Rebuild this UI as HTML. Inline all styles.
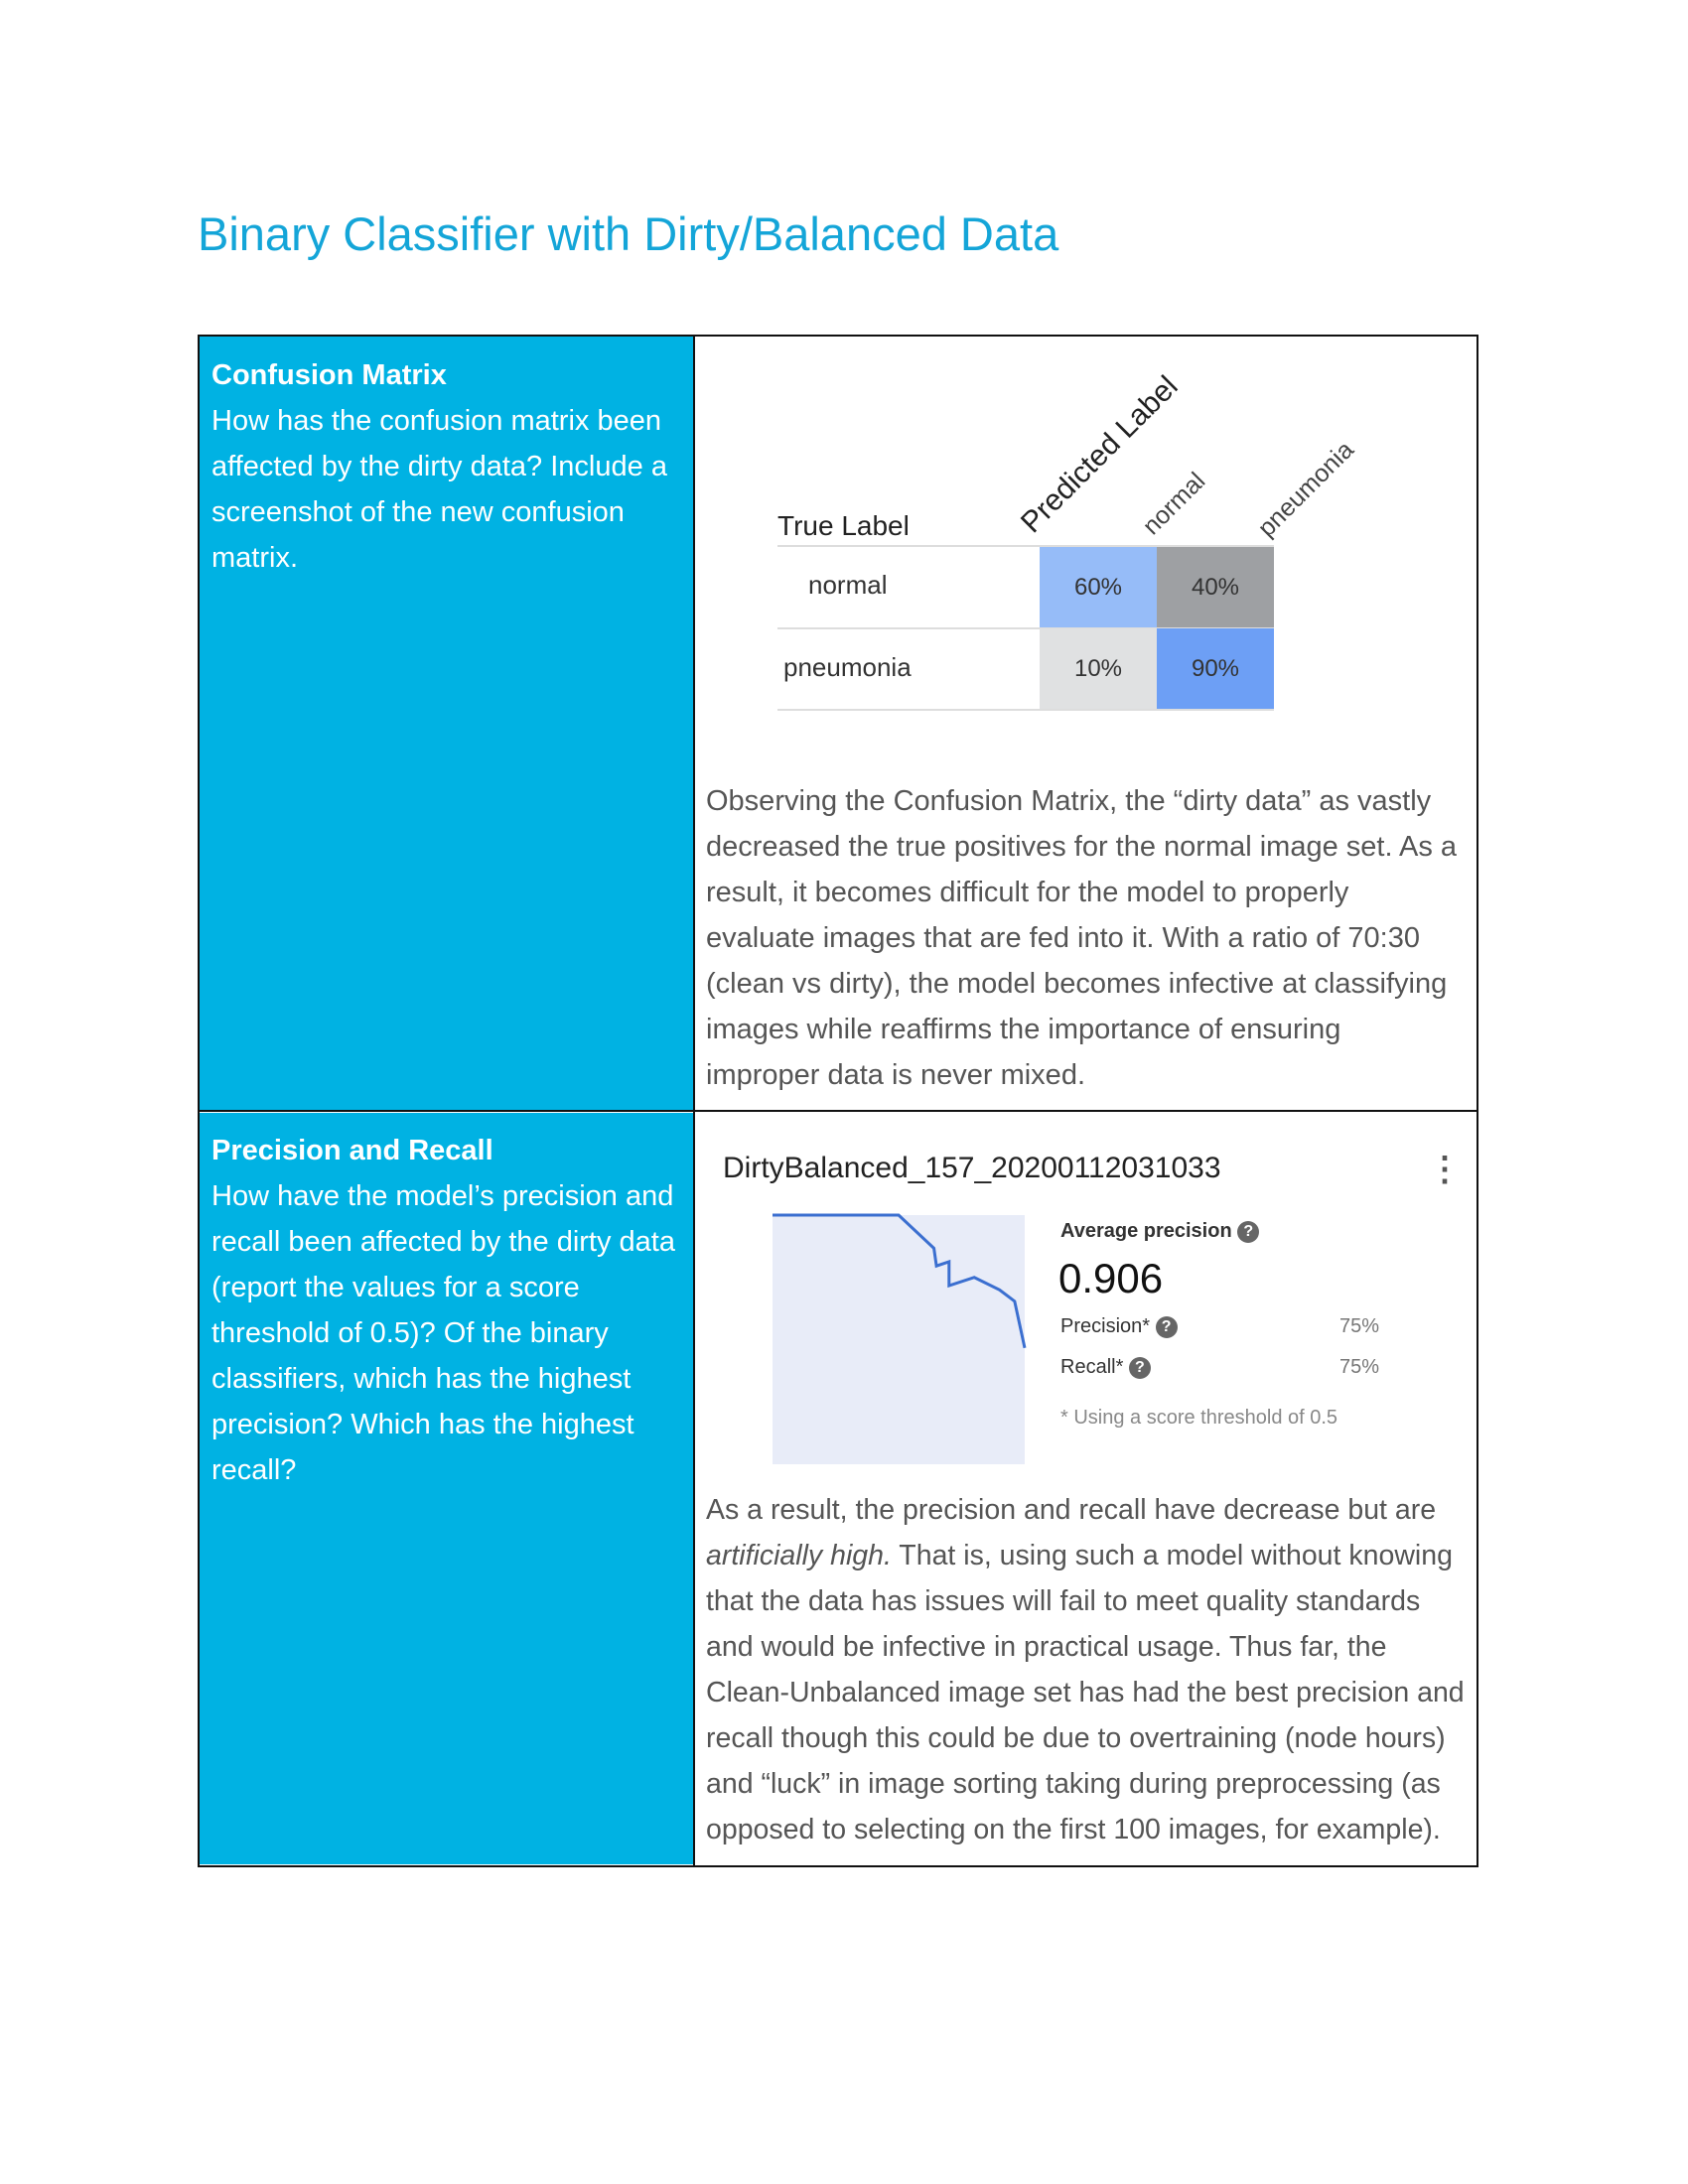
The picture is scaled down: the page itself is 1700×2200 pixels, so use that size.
<!DOCTYPE html>
<html><head><meta charset="utf-8">
<style>
body{margin:0;background:#fff;font-family:"Liberation Sans",sans-serif;}
#page{position:relative;width:1700px;height:2200px;overflow:hidden;}
.abs{position:absolute;white-space:nowrap;}
.lt{position:absolute;color:#fff;font-size:29px;line-height:46px;}
.rt{position:absolute;color:#555;font-size:29px;line-height:46px;white-space:nowrap;}
.q{display:inline-block;width:22px;height:22px;border-radius:50%;background:#666;color:#fff;font-size:16px;text-align:center;line-height:22px;font-weight:bold;vertical-align:middle;}
</style></head><body>
<div id="page">
<div class="abs" style="left:199px;top:208px;font-size:47px;color:#14a5d8;">Binary Classifier with Dirty/Balanced Data</div>

<div style="position:absolute;left:199px;top:337px;width:1286px;height:1540px;border:2px solid #111;"></div>
<div style="position:absolute;left:201px;top:339px;width:497px;height:779px;background:#00b2e3;"></div>
<div style="position:absolute;left:201px;top:1121px;width:497px;height:757px;background:#00b2e3;"></div>
<div style="position:absolute;left:698px;top:339px;width:2px;height:1540px;background:#111;"></div>
<div style="position:absolute;left:201px;top:1118px;width:1286px;height:2px;background:#111;"></div>

<div class="lt" style="left:213px;top:355px;width:480px;"><span style="font-weight:bold;">Confusion Matrix</span><br>How has the confusion matrix been affected by the dirty data? Include a screenshot of the new confusion matrix.</div>
<div class="lt" style="left:213px;top:1136px;width:480px;"><span style="font-weight:bold;">Precision and Recall</span><br>How have the model’s precision and recall been affected by the dirty data (report the values for a score threshold of 0.5)? Of the binary classifiers, which has the highest precision? Which has the highest recall?</div>

<!-- confusion matrix -->
<div class="abs" style="left:783px;top:514px;font-size:28px;color:#222;">True Label</div>
<div class="abs" style="left:1046px;top:545px;font-size:30px;color:#222;transform-origin:0 100%;transform:translateY(-35px) rotate(-45deg);">Predicted Label</div>
<div class="abs" style="left:1166px;top:545px;font-size:25px;color:#444;transform-origin:0 100%;transform:translateY(-29px) rotate(-45deg);">normal</div>
<div class="abs" style="left:1282px;top:547px;font-size:25px;color:#444;transform-origin:0 100%;transform:translateY(-29px) rotate(-45deg);">pneumonia</div>
<div style="position:absolute;left:783px;top:549px;width:500px;height:2px;background:#ddd;"></div>
<div style="position:absolute;left:783px;top:632px;width:500px;height:2px;background:#ddd;"></div>
<div style="position:absolute;left:783px;top:714px;width:500px;height:2px;background:#ddd;"></div>
<div class="abs" style="left:814px;top:574px;font-size:26px;color:#333;">normal</div>
<div class="abs" style="left:789px;top:657px;font-size:26px;color:#333;">pneumonia</div>
<div id="cm"></div>

<div class="rt" style="left:711px;top:784px;">Observing the Confusion Matrix, the “dirty data” as vastly<br>decreased the true positives for the normal image set. As a<br>result, it becomes difficult for the model to properly<br>evaluate images that are fed into it. With a ratio of 70:30<br>(clean vs dirty), the model becomes infective at classifying<br>images while reaffirms the importance of ensuring<br>improper data is never mixed.</div>

<!-- PR -->
<div class="abs" style="left:728px;top:1160px;font-size:30px;color:#222;">DirtyBalanced_157_20200112031033</div>
<div class="abs" style="left:1438px;top:1158px;font-size:34px;color:#555;font-weight:bold;">⋮</div>
<svg id="pr" style="position:absolute;left:0;top:0" width="1700" height="2200"></svg>
<div class="abs" style="left:1068px;top:1229px;font-size:20px;color:#333;font-weight:bold;">Average precision <span class="q">?</span></div>
<div class="abs" style="left:1066px;top:1264px;font-size:42px;color:#111;">0.906</div>
<div class="abs" style="left:1068px;top:1325px;font-size:20px;color:#333;">Precision* <span class="q">?</span></div>
<div class="abs" style="left:1349px;top:1325px;font-size:20px;color:#777;">75%</div>
<div class="abs" style="left:1068px;top:1366px;font-size:20px;color:#333;">Recall* <span class="q">?</span></div>
<div class="abs" style="left:1349px;top:1366px;font-size:20px;color:#777;">75%</div>
<div class="abs" style="left:1068px;top:1417px;font-size:20px;color:#888;">* Using a score threshold of 0.5</div>

<div class="rt" style="left:711px;top:1498px;font-size:28.5px;">As a result, the precision and recall have decrease but are<br><i>artificially high.</i> That is, using such a model without knowing<br>that the data has issues will fail to meet quality standards<br>and would be infective in practical usage. Thus far, the<br>Clean-Unbalanced image set has had the best precision and<br>recall though this could be due to overtraining (node hours)<br>and “luck” in image sorting taking during preprocessing (as<br>opposed to selecting on the first 100 images, for example).</div>
</div>
<script>
const cmRows=["normal","pneumonia"];
const cmCols=["normal","pneumonia"];
const cmValues=[[60,40],[10,90]];
const cmColors=[["#96bcf8","#9ea0a3"],["#e0e1e2","#6d9ff5"]];
const recall=[0,0.5,0.64,0.65,0.70,0.70,0.80,0.90,0.96,1.0];
const precision=[1,1,0.867,0.796,0.813,0.717,0.75,0.7,0.654,0.467];

const cm=document.getElementById('cm');
const cx=c=>1047+c*118, cy=r=>551+r*82;
cmValues.forEach((row,r)=>row.forEach((v,c)=>{
  const d=document.createElement('div');
  
  
  d.style.cssText=`position:absolute;left:${cx(c)}px;top:${cy(r)}px;width:118px;height:81px;background:${cmColors[r][c]};font-size:24px;color:#333;text-align:center;line-height:81px;`;
  d.textContent=v+'%';
  cm.appendChild(d);
}));

const svg=document.getElementById('pr'),NS='http://www.w3.org/2000/svg';
const X0=778,W=254,Y0=1224,H=251;
const px=r=>X0+r*W, py=p=>Y0+(1-p)*H;
const bg=document.createElementNS(NS,'rect');


bg.setAttribute('x',X0);bg.setAttribute('y',Y0);bg.setAttribute('width',W);bg.setAttribute('height',H);bg.setAttribute('fill','#e8ecf8');
svg.appendChild(bg);
const line=document.createElementNS(NS,'polyline');


line.setAttribute('points',recall.map((r,i)=>px(r)+','+py(precision[i])).join(' '));
line.setAttribute('fill','none');line.setAttribute('stroke','#3b6fd0');line.setAttribute('stroke-width','3');
svg.appendChild(line);
</script>
</body></html>
